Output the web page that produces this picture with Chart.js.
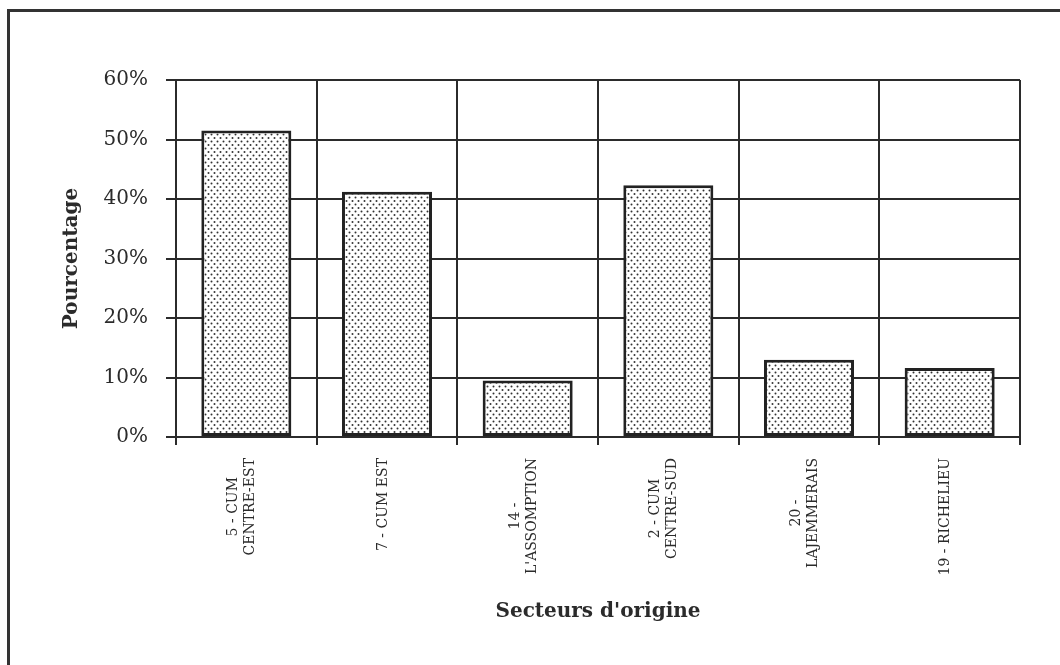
<!DOCTYPE html>
<html>
<head>
<meta charset="utf-8">
<script src="https://cdn.jsdelivr.net/npm/chart.js@4/dist/chart.umd.min.js"></script>
<style>
  body { margin: 0; background: #fff; }
  #wrap { position: relative; width: 1060px; height: 665px; }
  #frame { position: absolute; left: 7px; top: 9px; width: 1100px; height: 700px;
           border-left: 3px solid #333; border-top: 3px solid #333; pointer-events: none; }
</style>
</head>
<body>
<div id="wrap">
  <canvas id="chart"></canvas>
  <div id="frame"></div>
</div>
<script>
// données
const secteurs = [
    ['5 - CUM', 'CENTRE-EST'],
    ['7 - CUM EST'],
    ['14 -', "L'ASSOMPTION"],
    ['2 - CUM', 'CENTRE-SUD'],
    ['20 -', 'LAJEMMERAIS'],
    ['19 - RICHELIEU']
];
const pourcentages = [51.5, 41.2, 9.5, 42.3, 13.0, 11.6];
const yTicks = [0, 10, 20, 30, 40, 50, 60];

const ink = '#2b2b2b';

// motif pointillé des barres
function makeDots() {
    const c = document.createElement('canvas');
    c.width = 6; c.height = 7;
    const g = c.getContext('2d');
    g.fillStyle = '#fff';
    g.fillRect(0, 0, 6, 7);
    g.fillStyle = '#333';
    g.beginPath(); g.arc(1.5, 1.5, 1.0, 0, 2 * Math.PI); g.fill();
    g.beginPath(); g.arc(4.5, 5, 1.0, 0, 2 * Math.PI); g.fill();
    return g.createPattern(c, 'repeat');
}

// étiquettes verticales de l'axe X, lignes centrées entre elles
const xLabels = {
    id: 'xLabels',
    afterDraw(chart) {
        const xs = chart.scales.x;
        const ctx = chart.ctx;
        ctx.save();
        ctx.font = '14px "DejaVu Serif"';
        ctx.fillStyle = ink;
        ctx.textAlign = 'center';
        ctx.textBaseline = 'middle';
        const gap = 17;
        secteurs.forEach((lines, i) => {
            const cx = xs.getPixelForValue(i) - 4;
            const maxW = Math.max(...lines.map(l => ctx.measureText(l).width));
            const cy = xs.top + 21 + maxW / 2;
            lines.forEach((l, j) => {
                const x = cx + (j - (lines.length - 1) / 2) * gap;
                ctx.save();
                ctx.translate(x, cy);
                ctx.rotate(-Math.PI / 2);
                ctx.fillText(l, 0, 0);
                ctx.restore();
            });
        });
        ctx.restore();
    }
};

new Chart(document.getElementById('chart'), {
    type: 'bar',
    data: {
        labels: secteurs,
        datasets: [{
            data: pourcentages,
            backgroundColor: makeDots(),
            borderColor: '#222',
            borderWidth: 3,
            borderSkipped: false,
            barPercentage: 0.64,
            categoryPercentage: 1
        }]
    },
    options: {
        responsive: true,
        maintainAspectRatio: false,
        animation: false,
        layout: { padding: { top: 80, right: 40, left: 0, bottom: 0 } },
        plugins: { legend: { display: false }, tooltip: { enabled: false } },
        scales: {
            x: {
                offset: true,
                grid: { offset: true, color: ink, lineWidth: 2, tickLength: 8 },
                border: { color: ink, width: 2 },
                ticks: { display: false },
                title: {
                    display: true,
                    text: "Secteurs d'origine",
                    color: ink,
                    font: { family: 'DejaVu Serif', size: 20, weight: 'bold' },
                    padding: { top: 0, bottom: 41 }
                },
                afterFit(scale) { scale.height = 228; }
            },
            y: {
                min: 0,
                max: 60,
                afterBuildTicks(scale) { scale.ticks = yTicks.map(v => ({ value: v })); },
                grid: { color: ink, lineWidth: 2, tickLength: 10 },
                border: { color: ink, width: 2 },
                ticks: {
                    color: ink,
                    padding: 18,
                    font: { family: 'DejaVu Serif', size: 20 },
                    callback: v => v + '%'
                },
                title: {
                    display: true,
                    text: 'Pourcentage',
                    color: ink,
                    font: { family: 'DejaVu Serif', size: 20, weight: 'bold' },
                    padding: { top: 60, bottom: 0 }
                },
                afterFit(scale) { scale.width = 176; }
            }
        }
    },
    plugins: [xLabels]
});
</script>
</body>
</html>
